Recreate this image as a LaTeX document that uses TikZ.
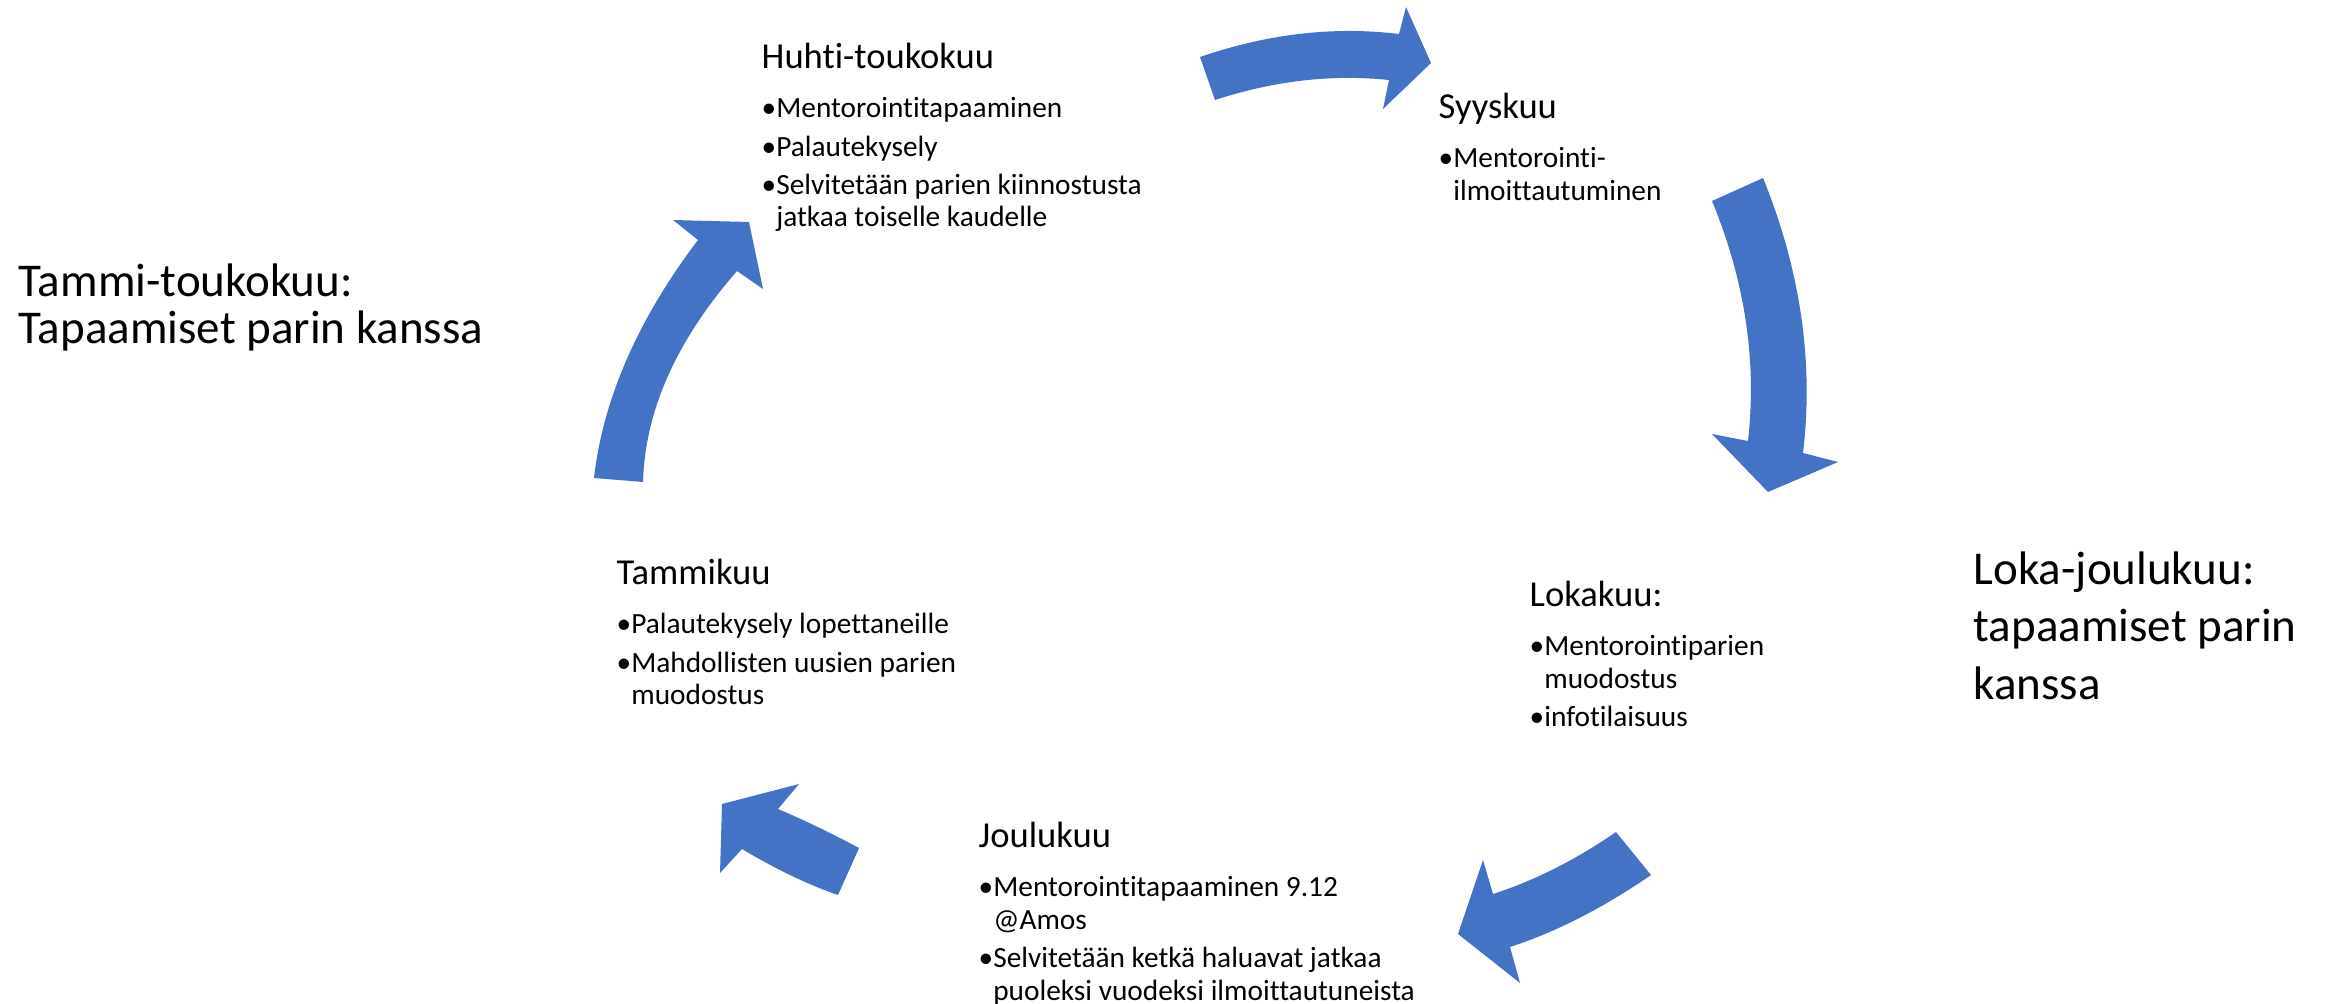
\documentclass[tikz,border=0pt]{standalone}
\usepackage{fontspec}
\setmainfont{Carlito}[Ligatures={NoCommon}]
\usepackage{tikz}
\usetikzlibrary{positioning}
\definecolor{cycleblue}{HTML}{4472C4}
\tikzset{
    month/.style={
           inner sep=0pt,
           anchor=base west,
           font=\fontsize{10.4}{12}\selectfont,
           },
    items/.style={
           inner sep=0pt,
           anchor=base west,
           yshift=-14.2pt,
           font=\fontsize{8.34}{9.25}\selectfont,
           },
    season/.style={
           inner sep=0pt,
           anchor=base west,
           font=\fontsize{13.37}{#1}\selectfont,
           },
    season/.default=13.5pt,
    cyclearrow/.style={
           fill=cycleblue,
           draw=none,
           },
}
\newcommand{\hangind}{\phantom{\textbullet}}

\begin{document}
\begin{tikzpicture}
[
x=0.01cm,y=-0.01cm
]

 % page, 2328 x 1003 units
 \path[use as bounding box,fill=white] (0,0) rectangle (2328,1003);

 % Huhti-toukokuu
 \node[month] (HUHTI) at (761,68) {Huhti-toukokuu};
 \node[items] (HUHTILIST) at (HUHTI.base west)
 {%
 \begin{tabular}[t]{@{}l@{}}
  \textbullet Mentorointitapaaminen\\[1.6pt]
  \textbullet Palautekysely\\[1.6pt]
  \textbullet Selvitetään parien kiinnostusta\\
  \hangind jatkaa toiselle kaudelle
 \end{tabular}
 };

 % Syyskuu
 \node[month] (SYYS) at (1438,118) {Syyskuu};
 \node[items] (SYYSLIST) at (SYYS.base west)
 {%
 \begin{tabular}[t]{@{}l@{}}
  \textbullet Mentorointi-\\
  \hangind ilmoittautuminen
 \end{tabular}
 };

 % Lokakuu
 \node[month] (LOKA) at (1529,606) {Lokakuu:};
 \node[items] (LOKALIST) at (LOKA.base west)
 {%
 \begin{tabular}[t]{@{}l@{}}
  \textbullet Mentorointiparien\\
  \hangind muodostus\\[1.6pt]
  \textbullet infotilaisuus
 \end{tabular}
 };

 % Joulukuu
 \node[month] (JOULU) at (978,847) {Joulukuu};
 \node[items] (JOULULIST) at (JOULU.base west)
 {%
 \begin{tabular}[t]{@{}l@{}}
  \textbullet Mentorointitapaaminen 9.12\\
  \hangind @Amos\\[1.6pt]
  \textbullet Selvitetään ketkä haluavat jatkaa\\
  \hangind puoleksi vuodeksi ilmoittautuneista
 \end{tabular}
 };

 % Tammikuu
 \node[month] (TAMMI) at (616,584) {Tammikuu};
 \node[items] (TAMMILIST) at (TAMMI.base west)
 {%
 \begin{tabular}[t]{@{}l@{}}
  \textbullet Palautekysely lopettaneille\\[1.6pt]
  \textbullet Mahdollisten uusien parien\\
  \hangind muodostus
 \end{tabular}
 };

 % the two periods
 \node[season] (TAMMITOUKO) at (18,296)
 {%
 \begin{tabular}[t]{@{}l@{}}
  Tammi-toukokuu:\\
  Tapaamiset parin kanssa
 \end{tabular}
 };

 \node[season=16.36pt] (LOKAJOULU) at (1973,584)
 {%
 \begin{tabular}[t]{@{}l@{}}
  Loka-joulukuu:\\
  tapaamiset parin\\
  kanssa
 \end{tabular}
 };

 % block arrows round the year
 % Huhti -> Syys
 \fill[cyclearrow] (1200,57) .. controls (1267,34) and (1333,26) .. (1399,34) -- (1406,7)
  -- (1431,63) -- (1383,109) -- (1389,80) .. controls (1331,74) and (1273,81) .. (1215,100) -- cycle;
 % Syys -> Loka
 \fill[cyclearrow] (1712,201) -- (1763,178) .. controls (1800,269) and (1814,361) .. (1803,453)
  -- (1838,462) -- (1768,492) -- (1712,434) -- (1748,441) .. controls (1757,361) and (1745,281) .. cycle;
 % Loka -> Joulu
 \fill[cyclearrow] (1616,832) -- (1651,875) .. controls (1603,908) and (1556,932) .. (1510,947)
  -- (1520,983) -- (1458,934) -- (1483,860) -- (1493,894) .. controls (1533,881) and (1574,861) .. cycle;
 % Joulu -> Tammi
 \fill[cyclearrow] (859,848) -- (838,895) .. controls (806,884) and (774,868) .. (742,849)
  -- (720,873) -- (722,804) -- (799,784) -- (778,809) .. controls (804,820) and (831,833) .. cycle;
 % Tammi -> Huhti
 \fill[cyclearrow] (594,478) .. controls (603,399) and (638,319) .. (698,240) -- (673,220)
  -- (749,222) -- (763,289) -- (737,271) .. controls (676,341) and (645,411) .. (643,482) -- cycle;

\end{tikzpicture}
\end{document}
